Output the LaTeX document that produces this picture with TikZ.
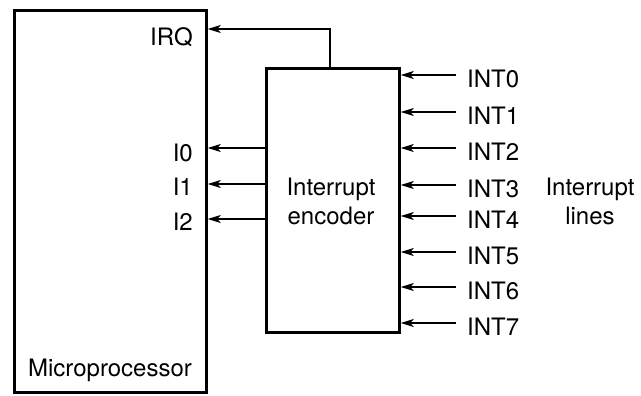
\documentclass[tikz,border=0pt]{standalone}
\usepackage{fontspec}
\setmainfont{TeX Gyre Heros}
\usetikzlibrary{arrows.meta}
\begin{document}
\begin{tikzpicture}[x=1pt,y=-1pt,
  box/.style={draw,line width=2.8pt,inner sep=0pt,anchor=north west},
  lbl/.style={font=\fontsize{24}{29}\selectfont,inner sep=0pt},
  arr/.style={line width=1.8pt,-{Stealth[length=13pt,width=8pt,inset=3.5pt]}}]
\useasboundingbox (0,0) rectangle (641,396);
\node[box,minimum width=192pt,minimum height=382pt] (mp) at (13,9) {};
\node[box,minimum width=133pt,minimum height=264pt] (enc) at (265,67) {};
\node[lbl,align=center] (enct) at (331,201) {Interrupt\\encoder};
\node[lbl,anchor=east] (irq) at (193,37) {IRQ};
\node[lbl,anchor=east] (i0) at (193,153) {I0};
\node[lbl,anchor=east] (i1) at (193,187) {I1};
\node[lbl,anchor=east] (i2) at (193,222) {I2};
\node[lbl] (mpt) at (110,370) {Microprocessor};
\node[lbl,align=center] (il) at (590,201) {Interrupt\\lines};
\coordinate (irqtop) at (330,29);
\draw[arr] (enc.north -| irqtop) -- (irqtop) -- (irqtop -| mp.east);
\foreach \n/\y in {0/148,1/184,2/219}{
  \coordinate (o\n) at (265,\y);
  \draw[arr] (o\n) -- (o\n -| mp.east);
}
\foreach \i/\y in {0/75,1/112,2/148,3/185,4/216,5/252,6/287,7/323}{
  \coordinate (s\i) at (456,\y);
  \node[lbl,anchor=west] (t\i) at (467,\y+4) {INT\i};
  \draw[arr] (s\i) -- (s\i -| enc.east);
}
\end{tikzpicture}
\end{document}
